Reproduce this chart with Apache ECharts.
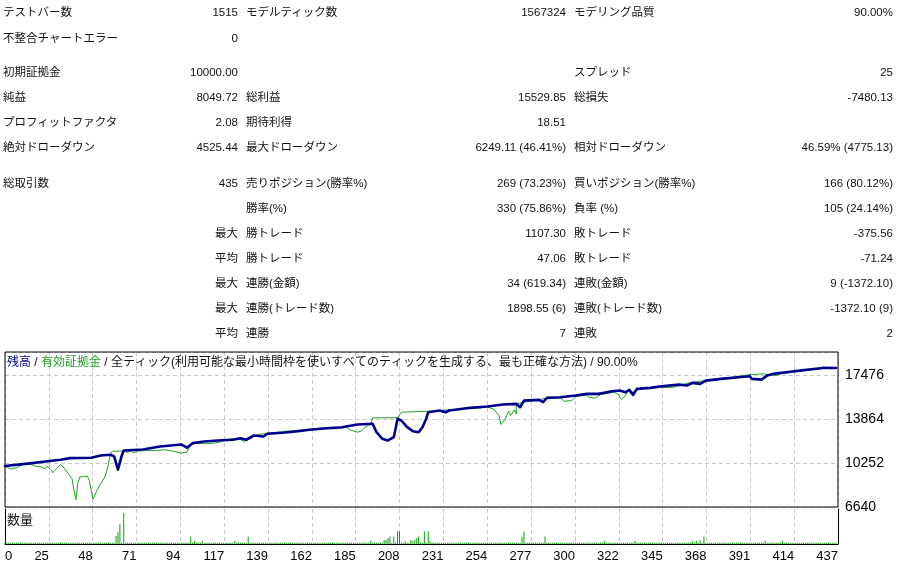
<!DOCTYPE html>
<html><head><meta charset="utf-8">
<script src="https://cdn.jsdelivr.net/npm/echarts@6/dist/echarts.min.js"></script>
<style>
html,body{margin:0;padding:0;background:#fff;width:897px;height:566px;overflow:hidden}
#chart{position:absolute;left:0;top:0;width:897px;height:566px}
#stats{position:absolute;left:0;top:0;width:897px;height:345px;font-family:"Liberation Sans","Noto Sans CJK JP",sans-serif;font-size:11.5px;color:#111}
#stats span{position:absolute;white-space:nowrap;line-height:16px}
</style></head><body>
<div id="chart"></div>
<div id="stats"></div>
<script>
// ---- statistics table (text) ----
const statRows = [
  ['テストバー数','1515','','モデルティック数','1567324','モデリング品質','90.00%'],
  ['不整合チャートエラー','0','','','','',''],
  ['初期証拠金','10000.00','','','','スプレッド','25'],
  ['純益','8049.72','','総利益','15529.85','総損失','-7480.13'],
  ['プロフィットファクタ','2.08','','期待利得','18.51','',''],
  ['絶対ドローダウン','4525.44','','最大ドローダウン','6249.11 (46.41%)','相対ドローダウン','46.59% (4775.13)'],
  ['総取引数','435','','売りポジション(勝率%)','269 (73.23%)','買いポジション(勝率%)','166 (80.12%)'],
  ['','','','勝率(%)','330 (75.86%)','負率 (%)','105 (24.14%)'],
  ['','','最大','勝トレード','1107.30','敗トレード','-375.56'],
  ['','','平均','勝トレード','47.06','敗トレード','-71.24'],
  ['','','最大','連勝(金額)','34 (619.34)','連敗(金額)','9 (-1372.10)'],
  ['','','最大','連勝(トレード数)','1898.55 (6)','連敗(トレード数)','-1372.10 (9)'],
  ['','','平均','連勝','7','連敗','2']
];

// ---- chart data ----
const xTickLabels = ['0','25','48','71','94','117','139','162','185','208','231','254','277','300','322','345','368','391','414','437'];
const yTickStart = 6640, yTickStep = 3612;

// balance [trade, value]
const balance = [
  [2,10000],[15,10219],[31,10522],[36,10653],[47,10686],[52,10874],[57,10932],[59,10792],[61,9703],[62,9810],
  [63,10874],[64,11284],[74,11366],[83,11611],[94,11775],[97,11505],[100,11882],[106,12021],[113,12103],[121,12160],
  [125,12291],[128,12160],[132,12512],[137,12430],[139,12651],[147,12733],[155,12864],[161,12979],[170,13110],[178,13192],
  [186,13413],[194,13470],[196,12783],[199,12242],[202,12103],[205,12373],[206,13086],[207,13880],[209,13741],[212,13192],
  [215,12864],[218,12783],[220,13192],[222,13905],[223,14421],[229,14560],[232,14421],[234,14560],[245,14781],[254,14887],
  [262,15051],[269,15108],[271,14830],[273,15379],[281,15436],[283,15240],[285,15600],[292,15649],[300,15788],[306,15927],
  [312,15927],[319,16140],[323,16198],[326,16059],[328,16255],[330,15846],[332,16337],[339,16419],[345,16550],[354,16689],
  [358,16607],[361,16828],[365,16746],[368,17017],[376,17156],[385,17287],[391,17369],[392,17156],[397,17099],[400,17426],
  [403,17566],[410,17697],[417,17836],[429,18057],[436,18050]
];

// equity [trade, value]
const equity = [
  [2,10000],[5,9752],[8,9867],[11,10113],[14,10137],[16,10113],[18,9998],[21,9916],[23,9785],[24,9973],
  [26,9703],[27,9457],[28,9646],[31,10113],[33,9834],[35,9375],[37,8966],[38,8008],[39,7246],[40,8556],
  [41,9097],[45,9179],[46,8827],[47,8008],[48,7271],[49,7271],[50,8008],[52,8556],[54,9048],[55,9507],
  [56,10194],[57,11013],[58,11226],[64,11226],[66,11120],[68,11284],[69,11063],[71,11226],[76,11284],[81,11284],
  [85,11341],[88,11284],[94,11063],[95,10956],[97,11145],[99,11775],[101,11882],[106,11832],[111,11882],[114,11964],
  [116,12103],[120,12242],[124,12242],[127,12021],[130,12242],[134,12594],[140,12701],[149,12864],[158,12979],[168,13110],
  [175,13061],[180,13192],[182,12979],[186,12783],[188,12864],[190,13192],[193,13470],[194,13962],[207,13962],[209,14421],
  [223,14502],[229,14560],[254,14830],[257,14699],[260,14150],[261,13413],[263,13798],[265,14502],[266,14150],[268,14617],
  [269,14289],[269,15108],[273,15240],[281,15436],[285,15600],[292,15600],[294,15321],[298,15379],[300,15706],[306,15846],
  [307,15649],[310,15567],[313,15870],[320,16059],[322,15927],[324,15461],[326,15788],[327,16116],[330,16059],[333,16337],
  [339,16419],[351,16468],[357,16746],[361,16878],[368,17017],[377,17156],[387,17426],[391,17508],[398,17566],[405,17426],
  [407,17566],[415,17754],[429,18024],[436,18050]
];

// volume (lots) for trades 2..436
const volumeFirstTrade = 2;
const volumes = [
  .1,.1,.1,.1,.1,.1,.1,.1,.1,.1,
  .1,.1,.1,.1,.1,.1,.1,.1,.1,.1,
  .1,.1,.1,.1,.1,.1,.1,.1,.1,.1,
  .1,.1,.1,.1,.1,.1,.1,.1,.1,.1,
  .1,.1,.1,.1,.1,.1,.1,.1,.1,.1,
  .1,.1,.1,.1,.1,.1,.1,.1,.6,.9,
  1.5,.1,2.3,.1,.1,.1,.1,.1,.1,.1,
  .1,.1,.1,.1,.1,.1,.1,.1,.1,.1,
  .1,.1,.1,.1,.1,.1,.1,.1,.1,.1,
  .1,.1,.1,.1,.1,.1,.1,.55,.1,.25,
  .1,.1,.1,.25,.1,.1,.1,.1,.1,.1,
  .1,.1,.1,.1,.1,.1,.1,.1,.1,.1,
  .25,.1,.1,.1,.1,.1,.1,.55,.1,.1,
  .1,.1,.1,.1,.1,.1,.1,.1,.1,.1,
  .1,.1,.1,.1,.1,.1,.1,.1,.1,.1,
  .1,.1,.1,.1,.1,.1,.1,.1,.1,.1,
  .1,.1,.1,.1,.1,.1,.1,.1,.1,.1,
  .1,.1,.1,.1,.1,.1,.1,.1,.1,.1,
  .1,.1,.1,.1,.1,.1,.1,.1,.1,.1,
  .1,.25,.1,.1,.1,.1,.1,.1,.3,.3,
  .45,.55,.1,.55,.1,.95,.95,.1,.1,.2,
  .1,.1,.3,.2,.3,.45,.55,.1,.1,.95,
  .1,.95,.2,.1,.1,.1,.1,.1,.1,.1,
  .1,.1,.1,.1,.1,.1,.1,.1,.1,.1,
  .1,.1,.1,.1,.1,.1,.1,.1,.1,.1,
  .1,.1,.1,.1,.1,.1,.1,.1,.1,.1,
  .1,.1,.1,.1,.1,.1,.1,.1,.1,.1,
  .55,.95,.1,.1,.1,.1,.1,.1,.1,.1,
  .1,.1,.55,.1,.1,.1,.1,.1,.1,.1,
  .1,.1,.1,.1,.1,.1,.1,.1,.1,.1,
  .1,.1,.1,.1,.1,.1,.1,.1,.1,.1,
  .1,.1,.1,.25,.1,.1,.1,.1,.1,.1,
  .1,.1,.1,.1,.1,.1,.1,.1,.1,.25,
  .1,.1,.1,.1,.1,.1,.1,.1,.1,.1,
  .1,.1,.1,.1,.1,.1,.1,.1,.1,.1,
  .1,.1,.1,.1,.1,.1,.1,.1,.1,.2,
  .1,.25,.1,.3,.1,.55,.1,.1,.1,.1,
  .1,.1,.1,.1,.1,.1,.1,.1,.1,.1,
  .1,.1,.1,.1,.1,.1,.1,.1,.1,.1,
  .1,.1,.1,.1,.1,.1,.1,.25,.1,.1,
  .1,.1,.1,.1,.1,.1,.25,.1,.1,.1,
  .1,.1,.1,.1,.1,.1,.1,.1,.1,.1,
  .1,.1,.1,.1,.1,.1,.1,.1,.1,.1,
  .1,.1,.1,.1,.1
];

// ---- layout for table ----
const rowCenters = [12,38,72,97,122,147,183,208,233,258,283,308,333];
const colLabelA = 3, colValueA = 238, colLabelB = 246, colValueB = 566, colLabelC = 574, colValueC = 893;
const stats = document.getElementById('stats');
function put(text, x, y, right){
  if(!text) return;
  const s = document.createElement('span');
  s.textContent = text;
  s.style.top = (y - 8) + 'px';
  if(right) s.style.right = (897 - x) + 'px'; else s.style.left = x + 'px';
  stats.appendChild(s);
}
statRows.forEach((r,i)=>{
  const y = rowCenters[i];
  put(r[0], colLabelA, y, false);
  put(r[1], colValueA, y, true);
  put(r[2], colValueA, y, true);
  put(r[3], colLabelB, y, false);
  put(r[4], colValueB, y, true);
  put(r[5], colLabelC, y, false);
  put(r[6], colValueC, y, true);
});

// ---- chart ----
const X_MIN = 2, X_MAX = 437, X_STEP = (X_MAX - X_MIN) / (xTickLabels.length - 1);
const NAVY = '#000090', GREEN = '#22a022', GRID = '#c8c8c8';
const FONT = '"Liberation Sans","Noto Sans CJK JP",sans-serif';
const dash = {show:true, lineStyle:{color:GRID, type:[4,3], width:1}};
const volData = volumes.map((v,i)=>[volumeFirstTrade + i, v]);

const chart = echarts.init(document.getElementById('chart'), null, {renderer:'canvas'});
chart.setOption({
  animation:false,
  backgroundColor:'#fff',
  title:[
    {text:'{b|残高} / {g|有効証拠金} / 全ティック(利用可能な最小時間枠を使いすべてのティックを生成する、最も正確な方法) / 90.00%',
     left:7, top:357, padding:0,
     textStyle:{fontSize:12, fontWeight:'normal', color:'#111', fontFamily:FONT,
       rich:{b:{color:NAVY, fontSize:12, fontFamily:FONT}, g:{color:GREEN, fontSize:12, fontFamily:FONT}}}},
    {text:'数量', left:7, top:514, padding:0,
     textStyle:{fontSize:13, fontWeight:'normal', color:'#111', fontFamily:FONT}}
  ],
  grid:[
    {left:5, right:59, top:352, bottom:59, show:true, borderColor:'#000', borderWidth:1, backgroundColor:'transparent', z:1},
    {left:5, right:59, top:509, bottom:22, show:false}
  ],
  xAxis:[
    {gridIndex:0, type:'value', min:X_MIN, max:X_MAX, interval:X_STEP, z:0,
     axisLine:{show:false}, axisTick:{show:false}, axisLabel:{show:false}, splitLine:dash},
    {gridIndex:1, type:'value', min:X_MIN, max:X_MAX, interval:X_STEP, z:0,
     axisLine:{show:false}, axisTick:{show:false}, splitLine:dash,
     axisLabel:{show:true, align:'right', alignMinLabel:'left', margin:6, fontSize:13, color:'#000', fontFamily:FONT,
       formatter:v=>{const i=Math.round((v-X_MIN)/X_STEP); return xTickLabels[i] ?? '';}}},
    {gridIndex:1, type:'value', position:'top', min:X_MIN, max:X_MAX, z:1,
     axisLine:{show:true, lineStyle:{color:'#000', width:1}}, axisTick:{show:false}, axisLabel:{show:false}, splitLine:{show:false}}
  ],
  yAxis:[
    {gridIndex:0, type:'value', position:'right', min:yTickStart, max:19364, interval:yTickStep, z:0,
     axisLine:{show:false}, axisTick:{show:false}, splitLine:dash,
     axisLabel:{margin:7, fontSize:14, color:'#000', fontFamily:FONT, showMaxLabel:false, showMinLabel:true,
       formatter:v=>String(Math.round(v))}},
    {gridIndex:1, type:'value', position:'left', min:0, max:2.6, z:1,
     axisLine:{show:true, lineStyle:{color:'#000', width:1}}, axisTick:{show:false}, axisLabel:{show:false}, splitLine:{show:false}},
    {gridIndex:1, type:'value', position:'right', min:0, max:1, z:1,
     axisLine:{show:true, lineStyle:{color:'#000', width:1}}, axisTick:{show:false}, axisLabel:{show:false}, splitLine:{show:false}}
  ],
  series:[
    {name:'有効証拠金', type:'line', xAxisIndex:0, yAxisIndex:0, data:equity, showSymbol:false, silent:true,
     lineStyle:{color:GREEN, width:1}, z:2},
    {name:'残高', type:'line', xAxisIndex:0, yAxisIndex:0, data:balance, showSymbol:false, silent:true,
     lineStyle:{color:NAVY, width:2.6, join:'round', cap:'round'}, z:3},
    {name:'数量', type:'bar', xAxisIndex:1, yAxisIndex:1, data:volData, barWidth:1, silent:true,
     itemStyle:{color:'#10a010'}, z:2}
  ]
});
</script>
</body></html>
